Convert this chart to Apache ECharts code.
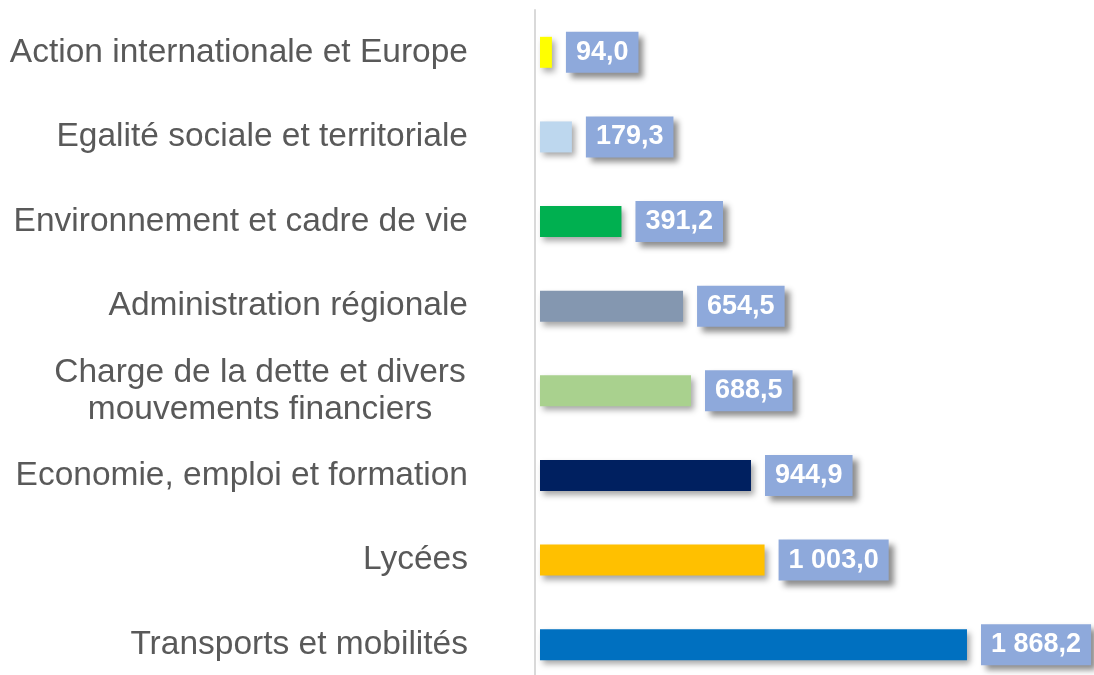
<!DOCTYPE html>
<html>
<head>
<meta charset="utf-8">
<script src="https://cdn.jsdelivr.net/npm/echarts@6/dist/echarts.min.js"></script>
<style>
  html, body { margin: 0; padding: 0; background: #fff; }
  #chart { width: 1094px; height: 675px; }
</style>
</head>
<body>
<div id="chart"></div>
<script>
// budget par mission (M€)
const categories = [
  'Action internationale et Europe',
  'Egalité sociale et territoriale',
  'Environnement et cadre de vie',
  'Administration régionale',
  'Charge de la dette et divers\nmouvements financiers',
  'Economie, emploi et formation',
  'Lycées',
  'Transports et mobilités'
];
const values = [94.0, 179.3, 391.2, 654.5, 688.5, 944.9, 1003.0, 1868.2];
const colors = ['#FFFF00', '#BDD7EE', '#00B050', '#8497B0', '#A9D18E', '#002060', '#FFC000', '#0070C0'];

// 1868.2 -> "1 868,2"
function fmt(v) {
  const parts = v.toFixed(1).split('.');
  const int = parts[0].replace(/\B(?=(\d{3})+(?!\d))/g, ' ');
  return int + ',' + parts[1];
}

const chart = echarts.init(document.getElementById('chart'));

const option = {
  animation: false,
  grid: { left: 540, top: 10, width: 528, height: 677, outerBoundsMode: 'none' },
  xAxis: {
    type: 'value',
    min: 43,
    max: 2300,
    show: false
  },
  yAxis: {
    type: 'category',
    data: categories,
    inverse: true,
    offset: 5,
    axisLine: { show: true, lineStyle: { color: '#D9D9D9', width: 2 } },
    axisTick: { show: false },
    axisLabel: {
      margin: 67,
      color: '#595959',
      fontSize: 33.5,
      fontFamily: 'Liberation Sans, Arial, sans-serif',
      formatter: function (val) {
        if (val.indexOf('\n') < 0) return val;
        return val.split('\n').map(function (l) { return '{c|' + l + '}'; }).join('\n');
      },
      rich: {
        c: { width: 416, align: 'center', fontSize: 33.5, lineHeight: 37, color: '#595959' }
      }
    }
  },
  series: [{
    type: 'bar',
    barWidth: 31,
    data: values.map(function (v, i) {
      return { value: v, itemStyle: { color: colors[i] } };
    }),
    itemStyle: {
      shadowColor: 'rgba(0,0,0,0.35)',
      shadowBlur: 6,
      shadowOffsetX: 3,
      shadowOffsetY: 4
    },
    label: {
      show: true,
      position: 'right',
      distance: 14,
      formatter: function (p) { return fmt(p.value); },
      color: '#fff',
      fontWeight: 'bold',
      fontSize: 27,
      fontFamily: 'Liberation Sans, Arial, sans-serif',
      lineHeight: 28,
      backgroundColor: '#8EA9DB',
      padding: [7, 10, 6, 10],
      shadowColor: 'rgba(0,0,0,0.45)',
      shadowBlur: 6,
      shadowOffsetX: 5,
      shadowOffsetY: 5
    }
  }]
};

chart.setOption(option);
</script>
</body>
</html>
